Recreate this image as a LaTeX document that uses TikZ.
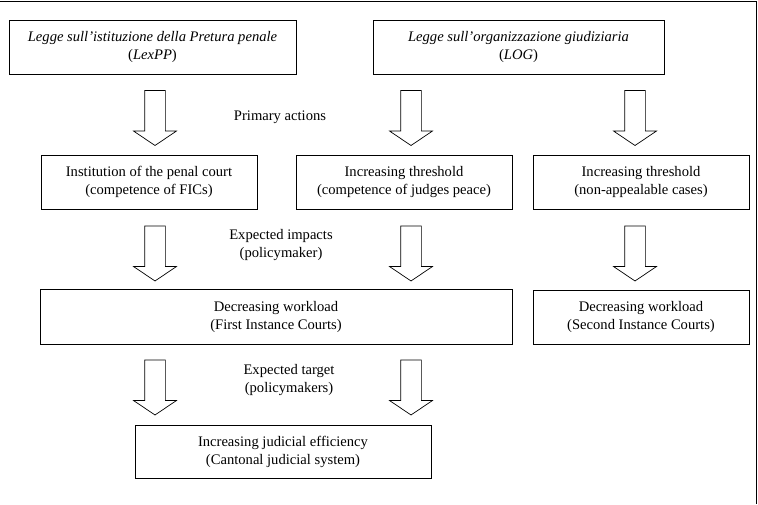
\documentclass[tikz,border=0pt]{standalone}
\usepackage{fontspec}
\setmainfont{Liberation Serif}
\usetikzlibrary{shapes.arrows}
\begin{document}
\begin{tikzpicture}[x=1pt, y=-1pt, line width=0.7pt,
        every node/.style={font=\fontsize{14.6}{18}\selectfont, align=center},
        box/.style={draw, inner sep=0pt},
        blockarrow/.style={draw, single arrow, rotate=-90, inner xsep=0pt, inner ysep=10pt,
            minimum height=55pt, single arrow head extend=11pt, single arrow tip angle=112}]
        \useasboundingbox (0,0) rectangle (758,504);
        \draw (0,1) -- (756,1) -- (756,504);
        \node[box, minimum width=287pt, minimum height=54pt] (lexpp) at (152.5,47) {\textit{Legge sull’istituzione della Pretura penale}\\(\textit{LexPP})};
        \node[box, minimum width=291pt, minimum height=54pt] (log) at (518.5,47) {\textit{Legge sull’organizzazione giudiziaria}\\(\textit{LOG})};
        \node[blockarrow] (a1) at (155,114.5) {};
        \node[blockarrow] (a2) at (411,114.5) {};
        \node[blockarrow] (a3) at (635,114.5) {};
        \node (primary) at (280,117) {Primary actions};
        \node[box, minimum width=216pt, minimum height=54pt] (penal) at (149,182) {Institution of the penal court\\(competence of FICs)};
        \node[box, minimum width=216pt, minimum height=54pt] (peace) at (404,182) {Increasing threshold\\(competence of judges peace)};
        \node[box, minimum width=216pt, minimum height=54pt] (appeal) at (641,182) {Increasing threshold\\(non-appealable cases)};
        \node[blockarrow] (b1) at (155,250) {};
        \node[blockarrow] (b2) at (411,250) {};
        \node[blockarrow] (b3) at (635,250) {};
        \node (impacts) at (281,245.5) {Expected impacts\\(policymaker)};
        \node[box, minimum width=472pt, minimum height=55pt] (first) at (276,316.5) {Decreasing workload\\(First Instance Courts)};
        \node[box, minimum width=216pt, minimum height=54pt] (second) at (641,317) {Decreasing workload\\(Second Instance Courts)};
        \node[blockarrow] (c1) at (155,384) {};
        \node[blockarrow] (c2) at (411,384) {};
        \node (target) at (289,380.5) {Expected target\\(policymakers)};
        \node[box, minimum width=296pt, minimum height=53pt] (efficiency) at (283,451.5) {Increasing judicial efficiency\\(Cantonal judicial system)};
\end{tikzpicture}
\end{document}
